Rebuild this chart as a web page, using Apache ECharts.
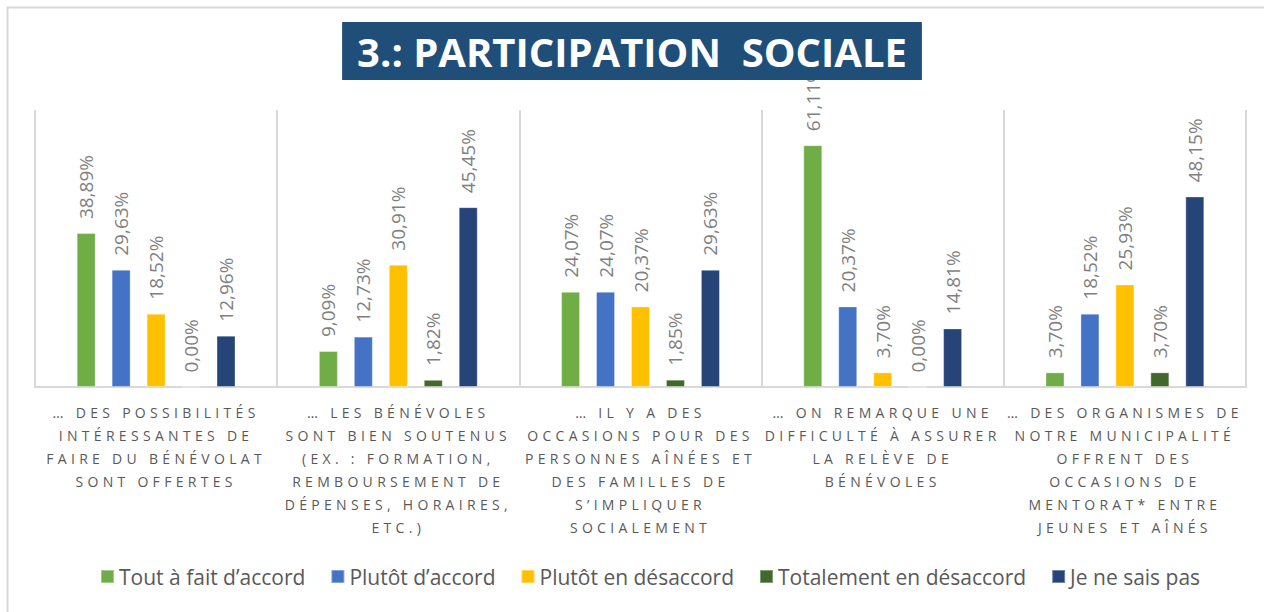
<!DOCTYPE html>
<html>
<head>
<meta charset="utf-8">
<script src="https://cdn.jsdelivr.net/npm/echarts@6/dist/echarts.min.js"></script>
<style>
  html, body { margin: 0; padding: 0; background: #ffffff; }
  #chart { width: 1264px; height: 612px; }
</style>
</head>
<body>
<div id="chart"></div>
<script>
// Statements shown along the x axis (line breaks as laid out under each group)
const categories = [
  '… DES POSSIBILITÉS\nINTÉRESSANTES DE\nFAIRE DU BÉNÉVOLAT\nSONT OFFERTES',
  '… LES BÉNÉVOLES\nSONT BIEN SOUTENUS\n(EX. : FORMATION,\nREMBOURSEMENT DE\nDÉPENSES, HORAIRES,\nETC.)',
  '… IL Y A DES\nOCCASIONS POUR DES\nPERSONNES AÎNÉES ET\nDES FAMILLES DE\nS’IMPLIQUER\nSOCIALEMENT',
  '… ON REMARQUE UNE\nDIFFICULTÉ À ASSURER\nLA RELÈVE DE\nBÉNÉVOLES',
  '… DES ORGANISMES DE\nNOTRE MUNICIPALITÉ\nOFFRENT DES\nOCCASIONS DE\nMENTORAT* ENTRE\nJEUNES ET AÎNÉS'
];

const seriesNames = [
  'Tout à fait d’accord',
  'Plutôt d’accord',
  'Plutôt en désaccord',
  'Totalement en désaccord',
  'Je ne sais pas'
];

// Percentages of answers per statement
const toutAFaitDAccord     = [38.89, 9.09, 24.07, 61.11, 3.70];
const plutotDAccord        = [29.63, 12.73, 24.07, 20.37, 18.52];
const plutotEnDesaccord    = [18.52, 30.91, 20.37, 3.70, 25.93];
const totalementDesaccord  = [0.00, 1.82, 1.85, 0.00, 3.70];
const neSaisPas            = [12.96, 45.45, 29.63, 14.81, 48.15];

const seriesValues = [toutAFaitDAccord, plutotDAccord, plutotEnDesaccord, totalementDesaccord, neSaisPas];
const seriesColors = ['#70AD47', '#4472C4', '#FFC000', '#43682B', '#264478'];

const FONT = '"Open Sans", "Noto Sans", sans-serif';

const chart = echarts.init(document.getElementById('chart'), null, { renderer: 'svg' });

const series = seriesNames.map((name, i) => ({
  name: name,
  type: 'bar',
  data: seriesValues[i],
  barWidth: 19,
  barGap: '84%',
  itemStyle: { color: seriesColors[i], borderColor: 'rgba(255,255,255,0.35)', borderWidth: 1 },
  label: {
    show: true,
    position: 'top',
    rotate: 90,
    align: 'left',
    verticalAlign: 'middle',
    distance: 14,
    color: '#7F7F7F',
    fontFamily: FONT,
    fontSize: 19,
    formatter: p => p.value.toFixed(2).replace('.', ',') + '%'
  },
  emphasis: { disabled: true }
}));

chart.setOption({
  animation: false,
  backgroundColor: '#ffffff',
  title: {
    text: '3.: PARTICIPATION  SOCIALE',
    left: 'center',
    top: 22,
    backgroundColor: '#1F4E79',
    padding: [7, 15, 7, 15],
    textStyle: {
      color: '#ffffff',
      fontFamily: FONT,
      fontWeight: 'bold',
      fontSize: 40,
      lineHeight: 44
    }
  },
  legend: {
    data: seriesNames,
    left: 95,
    top: 561,
    icon: 'rect',
    itemWidth: 13,
    itemHeight: 13,
    itemGap: 25,
    textStyle: { color: '#595959', fontFamily: FONT, fontSize: 21 }
  },
  grid: { left: 35, right: 18, top: 110, bottom: 225, containLabel: false },
  xAxis: {
    type: 'category',
    data: categories,
    axisLine: { lineStyle: { color: '#D9D9D9', width: 2 } },
    axisTick: { show: false },
    splitLine: { show: true, lineStyle: { color: '#D9D9D9', width: 2 } },
    axisLabel: {
      interval: 0,
      margin: 14,
      color: '#595959',
      fontFamily: FONT,
      fontSize: 14,
      lineHeight: 23,
      align: 'center'
    }
  },
  yAxis: {
    type: 'value',
    min: 0,
    max: 70,
    show: false,
    splitLine: { show: false }
  },
  graphic: [{
    type: 'rect',
    left: 5, top: 5,
    shape: { width: 1300, height: 700 },
    style: { fill: 'none', stroke: '#D9D9D9', lineWidth: 2 },
    silent: true,
    z: -1
  }],
  series: series
});

// Spaced-out capitals for the statement labels
const catLines = new Set();
categories.forEach(c => c.split('\n').forEach(l => catLines.add(l)));
function spaceLabels() {
  document.querySelectorAll('#chart text').forEach(t => {
    if (catLines.has(t.textContent)) t.style.letterSpacing = '4.3px';
  });
}
chart.on('finished', spaceLabels);
spaceLabels();
</script>
</body>
</html>
